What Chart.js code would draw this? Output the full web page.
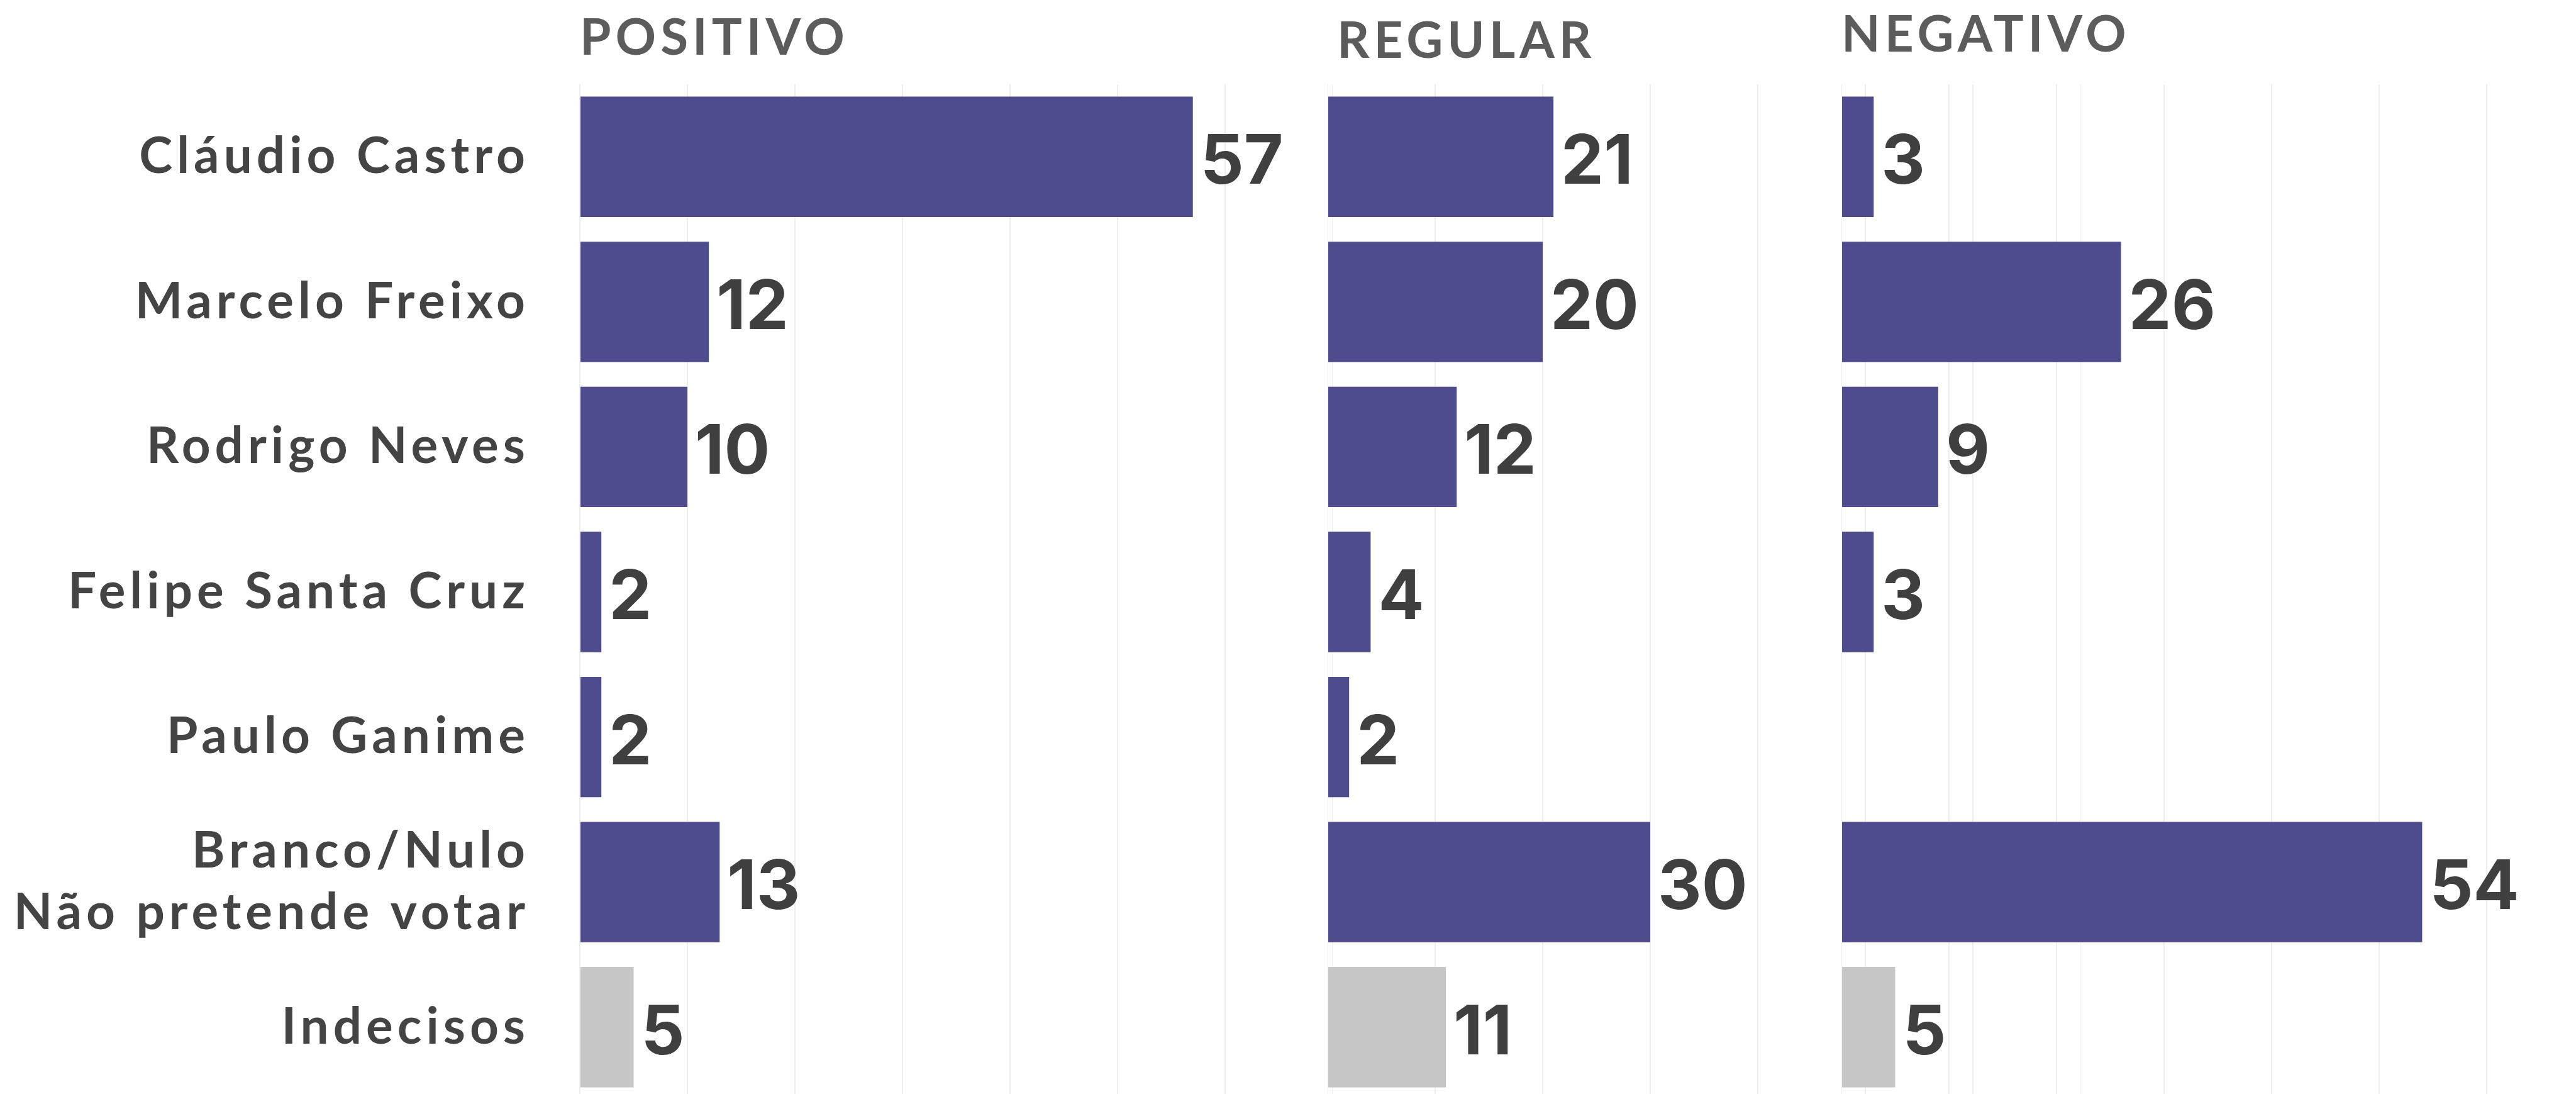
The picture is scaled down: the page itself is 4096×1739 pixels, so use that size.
<!DOCTYPE html>
<html lang="pt-BR">
<head>
<meta charset="utf-8">
<title>Avaliação dos candidatos</title>
<script src="https://cdn.jsdelivr.net/npm/chart.js@4.4.1/dist/chart.umd.min.js"></script>
<style>
  html, body { margin: 0; padding: 0; background: #fff; overflow: hidden; width: 4096px; height: 1739px; }
  canvas { position: absolute; top: 0; }
  #chartPositivo { left: 0; }
  #chartRegular { left: 2111px; }
  #chartNegativo { left: 2928px; }
</style>
</head>
<body>
<canvas id="chartPositivo" width="2119" height="1748"></canvas>
<canvas id="chartRegular" width="1197" height="1748"></canvas>
<canvas id="chartNegativo" width="1197" height="1748"></canvas>
<script>
// data
const categories = [
  "Cláudio Castro",
  "Marcelo Freixo",
  "Rodrigo Neves",
  "Felipe Santa Cruz",
  "Paulo Ganime",
  ["Branco/Nulo", "Não pretende votar"],
  "Indecisos",
];
const panelTitles = ["POSITIVO", "REGULAR", "NEGATIVO"];
const positivo = [57, 12, 10, 2, 2, 13, 5];
const regular = [21, 20, 12, 4, 2, 30, 11];
const negativo = [3, 26, 9, 3, null, 54, 5];
const axisTicks = [0, 10, 20, 30, 40, 50, 60, 70];

const PURPLE = "#4e4b8e";
const GREY = "#c6c6c6";
const barColors = categories.map((c) => (c === "Indecisos" ? GREY : PURPLE));

Chart.defaults.font.family = "Lato, sans-serif";
Chart.defaults.animation = false;

// draws the panel title and the value next to each bar
const barText = {
  id: "barText",
  beforeDraw(chart) {
    chart.ctx.letterSpacing = "7px";
  },
  afterDatasetsDraw(chart, args, opts) {
    const ctx = chart.ctx;
    ctx.save();
    ctx.letterSpacing = "7px";
    ctx.fillStyle = "#5c5c5c";
    ctx.font = "bold 80px Lato";
    ctx.textAlign = "left";
    ctx.textBaseline = "alphabetic";
    ctx.fillText(opts.title, chart.chartArea.left + opts.titleDx, opts.titleY);

    ctx.letterSpacing = "0px";
    ctx.fillStyle = "#404040";
    ctx.font = "bold 108px Inter";
    const meta = chart.getDatasetMeta(0);
    const values = chart.data.datasets[0].data;
    meta.data.forEach((bar, i) => {
      if (values[i] == null) return;
      ctx.fillText(String(values[i]), bar.x + 12, bar.y + 43);
    });
    ctx.restore();
  },
};

function makePanel(id, values, title, titleDx, titleY, showLabels) {
  const ctx = document.getElementById(id).getContext("2d");
  return new Chart(ctx, {
    type: "bar",
    data: {
      labels: categories,
      datasets: [
        {
          data: values,
          backgroundColor: barColors,
          borderWidth: 0,
          barPercentage: 0.83,
          categoryPercentage: 1,
        },
      ],
    },
    options: {
      indexAxis: "y",
      responsive: false,
      layout: { padding: { top: 134, left: 0, right: 0, bottom: 0 } },
      plugins: {
        legend: { display: false },
        tooltip: { enabled: false },
        barText: { title: title, titleDx: titleDx, titleY: titleY },
      },
      scales: {
        x: {
          min: 0,
          max: 70,
          afterBuildTicks: (scale) => {
            scale.ticks = axisTicks.map((v) => ({ value: v }));
          },
          ticks: { display: false },
          grid: { color: "#eeeeee", lineWidth: 2, drawTicks: false },
          border: { display: false },
        },
        y: {
          display: showLabels,
          afterFit: (scale) => {
            if (!showLabels) return;
            scale.width = 922;
            scale.paddingTop = 0;
            scale.paddingBottom = 0;
          },
          grid: { display: false, drawTicks: false },
          border: { display: false },
          ticks: {
            autoSkip: false,
            color: "#444444",
            padding: 80,
            font: { size: 80, weight: "bold", lineHeight: 1.22 },
          },
        },
      },
    },
    plugins: [barText],
  });
}

makePanel("chartPositivo", positivo, panelTitles[0], 0, 87, true);
makePanel("chartRegular", regular, panelTitles[1], 15, 92, false);
makePanel("chartNegativo", negativo, panelTitles[2], 0, 82, false);
</script>
</body>
</html>
